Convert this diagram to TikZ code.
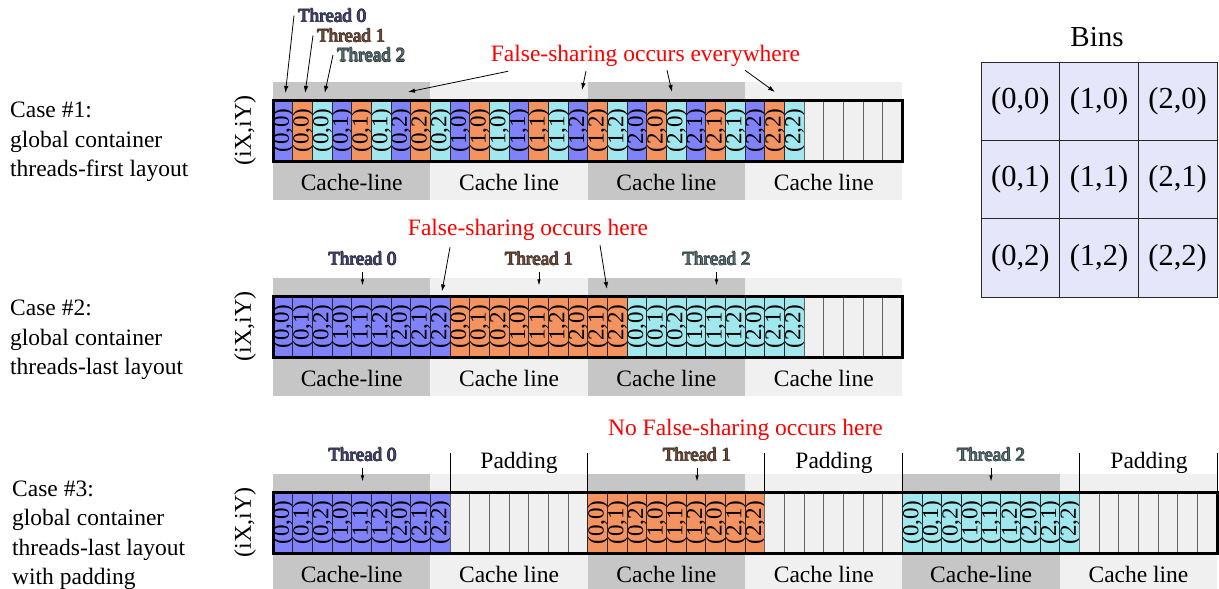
\documentclass[tikz,border=0pt]{standalone}
\usepackage{fontspec}
\setmainfont{Liberation Serif}
\usepackage{graphicx}
\usetikzlibrary{arrows.meta}

\definecolor{thr0}{RGB}{128,130,252}
\definecolor{thr1}{RGB}{244,146,96}
\definecolor{thr2}{RGB}{160,232,238}
\definecolor{banddark}{RGB}{198,198,198}
\definecolor{bandlight}{RGB}{240,240,240}
\definecolor{binfill}{RGB}{230,230,250}
\definecolor{celledge}{RGB}{40,40,40}
\definecolor{emptyedge}{RGB}{100,100,100}

\newcommand\pxsize[1]{\fontsize{#1}{#1}\selectfont}
% thread label: dark outlined lettering with a tinted core
\newcommand\thrlabel[6]{%
  \node[thrlbl, text=black!85, anchor=#3] (#1a) at ({#4-0.6},{#5}) {#6};
  \node[thrlbl, text=black!85, anchor=#3] (#1b) at ({#4+0.6},{#5}) {#6};
  \node[thrlbl, text=black!85, anchor=#3] (#1c) at ({#4},{#5-0.6}) {#6};
  \node[thrlbl, text=black!85, anchor=#3] (#1d) at ({#4},{#5+0.6}) {#6};
  \node[thrlbl, text=#2!50!black, anchor=#3] (#1) at (#4,#5) {#6};}

\begin{document}
\begin{tikzpicture}[x=1pt,y=-1pt,
  cell/.style={draw=celledge, line width=0.8pt, anchor=north west, inner sep=0pt, outer sep=0pt,
     minimum width=19.67pt, minimum height=61pt, font=\pxsize{23}},
  emptycell/.style={cell, draw=emptyedge, fill=bandlight},
  barframe/.style={draw=black, line width=3pt, anchor=north west, inner sep=0pt, outer sep=0pt, minimum height=61pt},
  cachelbl/.style={anchor=base, font=\pxsize{23.5}, inner sep=0pt},
  caselbl/.style={anchor=base west, font=\pxsize{23.5}, inner sep=0pt},
  warnlbl/.style={anchor=base, font=\pxsize{23.5}, text=red, inner sep=0pt},
  thrlbl/.style={font=\pxsize{19}, inner sep=0pt},
  coordlbl/.style={rotate=90, font=\pxsize{24}, inner sep=0pt},
  arr/.style={-{Latex[length=7pt,width=4.5pt]}, line width=0.8pt},
  tick/.style={-{Latex[length=6pt,width=3.5pt]}, line width=0.7pt},
  padline/.style={line width=0.9pt},
  binbox/.style={draw=black!85, line width=0.9pt, fill=binfill, minimum width=78.67pt,
     minimum height=78.33pt, inner sep=0pt, outer sep=0pt, font=\pxsize{30.5}},
]
\useasboundingbox (0,0) rectangle (1219,589);

% ---------------- cache-line bands ----------------
\foreach \k in {0,...,3} {
  \pgfmathsetmacro\xa{273+\k*157.36}
  \pgfmathsetmacro\xb{\xa+157.36}
  \pgfmathtruncatemacro\odd{mod(\k,2)}
  \ifnum\odd=0 \def\bc{banddark}\else\def\bc{bandlight}\fi
  \fill[\bc] (\xa,82) rectangle (\xb,200);
  \fill[\bc] (\xa,278) rectangle (\xb,396);
}
\foreach \k in {0,...,5} {
  \pgfmathsetmacro\xa{273+\k*157.36}
  \pgfmathsetmacro\xb{\xa+157.36}
  \pgfmathtruncatemacro\odd{mod(\k,2)}
  \ifnum\odd=0 \def\bc{banddark}\else\def\bc{bandlight}\fi
  \fill[\bc] (\xa,474) rectangle (\xb,589);
}

% ---------------- case 1: threads-first ----------------
\foreach \i in {0,...,26} {
  \pgfmathtruncatemacro\t{mod(\i,3)}
  \pgfmathtruncatemacro\b{int(\i/3)}
  \pgfmathtruncatemacro\bx{int(\b/3)}
  \pgfmathtruncatemacro\by{mod(\b,3)}
  \node[cell, fill=thr\t] (a\i) at ({273+\i*19.67},100) {\rotatebox{90}{(\bx,\by)}};
}
\foreach \i in {27,...,31} \node[emptycell] (a\i) at ({273+\i*19.67},100) {};
\node[barframe, minimum width=629.44pt] (bar1) at (273,100) {};

% ---------------- case 2: threads-last ----------------
\foreach \i in {0,...,26} {
  \pgfmathtruncatemacro\t{int(\i/9)}
  \pgfmathtruncatemacro\b{mod(\i,9)}
  \pgfmathtruncatemacro\bx{int(\b/3)}
  \pgfmathtruncatemacro\by{mod(\b,3)}
  \node[cell, fill=thr\t] (b\i) at ({273+\i*19.67},296) {\rotatebox{90}{(\bx,\by)}};
}
\foreach \i in {27,...,31} \node[emptycell] (b\i) at ({273+\i*19.67},296) {};
\node[barframe, minimum width=629.44pt] (bar2) at (273,296) {};

% ---------------- case 3: threads-last with padding ----------------
\foreach \t in {0,1,2} {
  \foreach \b in {0,...,8} {
    \pgfmathtruncatemacro\i{16*\t+\b}
    \pgfmathtruncatemacro\bx{int(\b/3)}
    \pgfmathtruncatemacro\by{mod(\b,3)}
    \node[cell, fill=thr\t] (c\i) at ({273+\i*19.67},492) {\rotatebox{90}{(\bx,\by)}};
  }
  \foreach \b in {9,...,15} {
    \pgfmathtruncatemacro\i{16*\t+\b}
    \node[emptycell] (c\i) at ({273+\i*19.67},492) {};
  }
}
\node[barframe, minimum width=944.16pt] (bar3) at (273,492) {};

% padding markers
\foreach \i in {9,16,25,32,41} \draw[padline] (c\i.north west) -- ++(0,-39);
\draw[padline] (c47.north east) -- ++(0,-39);
\node[cachelbl] (pad1) at (519,468) {Padding};
\node[cachelbl] (pad2) at (834,468) {Padding};
\node[cachelbl] (pad3) at (1149,468) {Padding};

% ---------------- cache-line captions ----------------
\foreach \k/\txt in {0/Cache-line,1/Cache line,2/Cache line,3/Cache line} {
  \node[cachelbl] (cl1\k) at ({351.68+\k*157.36},190.5) {\txt};
  \node[cachelbl] (cl2\k) at ({351.68+\k*157.36},386.5) {\txt};
}
\foreach \k/\txt in {0/Cache-line,1/Cache line,2/Cache line,3/Cache line,4/Cache-line,5/Cache line}
  \node[cachelbl] (cl3\k) at ({351.68+\k*157.36},582.5) {\txt};

% ---------------- row captions ----------------
\node[caselbl] (k1a) at (10,117.5) {Case \#1:};
\node[caselbl] (k1b) at (10,147) {global container};
\node[caselbl] (k1c) at (10,176.5) {threads-first layout};
\node[caselbl] (k2a) at (10,315.5) {Case \#2:};
\node[caselbl] (k2b) at (10,345) {global container};
\node[caselbl] (k2c) at (10,374.5) {threads-last layout};
\node[caselbl] (k3a) at (12,496) {Case \#3:};
\node[caselbl] (k3b) at (12,525.5) {global container};
\node[caselbl] (k3c) at (12,555) {threads-last layout};
\node[caselbl] (k3d) at (12,584) {with padding};

\node[coordlbl] (ix1) at (245,130.5) {(iX,iY)};
\node[coordlbl] (ix2) at (245,326.5) {(iX,iY)};
\node[coordlbl] (ix3) at (245,522.5) {(iX,iY)};

% ---------------- case 1 annotations ----------------
\thrlabel{t10}{thr0}{base west}{298}{22}{Thread 0}
\thrlabel{t11}{thr1}{base west}{317}{42}{Thread 1}
\thrlabel{t12}{thr2}{base west}{337}{61.5}{Thread 2}
\draw[arr] ([xshift=-4pt]t10.west) -- ([xshift=2pt,yshift=7pt]a0.north);
\draw[arr] ([xshift=-4pt]t11.west) -- ([xshift=2pt,yshift=7pt]a1.north);
\draw[arr] ([xshift=-4pt]t12.west) -- ([xshift=2pt,yshift=7pt]a2.north);

\node[warnlbl] (fs1) at (645.5,61) {False-sharing occurs everywhere};
\coordinate (h11) at (408,92);
\coordinate (h12) at (582,90);
\coordinate (h13) at (672,92);
\coordinate (h14) at (775,92);
\draw[arr] ([xshift=-137.5pt,yshift=-5pt]fs1.south) -- (h11);
\draw[arr] ([xshift=-59.5pt,yshift=-5pt]fs1.south) -- (h12);
\draw[arr] ([xshift=21.5pt,yshift=-4pt]fs1.south) -- (h13);
\draw[arr] ([xshift=99.5pt,yshift=-4pt]fs1.south) -- (h14);

% ---------------- case 2 annotations ----------------
\thrlabel{t20}{thr0}{base}{362.5}{265}{Thread 0}
\thrlabel{t21}{thr1}{base}{539}{265}{Thread 1}
\thrlabel{t22}{thr2}{base}{716.5}{265}{Thread 2}
\foreach \n in {t20,t21,t22} \draw[tick] ([yshift=-7pt]\n.south) -- ++(0,13);

\node[warnlbl] (fs2) at (528,235.5) {False-sharing occurs here};
\coordinate (h21) at (442,291.5);
\coordinate (h22) at (607,289);
\draw[arr] ([xshift=-78pt,yshift=-6.5pt]fs2.south) -- (h21);
\draw[arr] ([xshift=72pt,yshift=-4.5pt]fs2.south) -- (h22);

% ---------------- case 3 annotations ----------------
\thrlabel{t30}{thr0}{base}{362.5}{461}{Thread 0}
\thrlabel{t31}{thr1}{base}{697}{461}{Thread 1}
\thrlabel{t32}{thr2}{base}{991}{461}{Thread 2}
\foreach \n in {t30,t31,t32} \draw[tick] ([yshift=-7pt]\n.south) -- ++(0,13);

\node[warnlbl] (fs3) at (745.5,435) {No False-sharing occurs here};

% ---------------- bin grid ----------------
\node[anchor=base, font=\pxsize{29}, inner sep=0pt] (binstitle) at (1097,46) {Bins};
\foreach \r in {0,1,2} \foreach \c in {0,1,2}
  \node[binbox] (bin\c\r) at ({981+(\c+0.5)*78.67},{62+(\r+0.5)*78.33}) {(\c,\r)};

\end{tikzpicture}
\end{document}
